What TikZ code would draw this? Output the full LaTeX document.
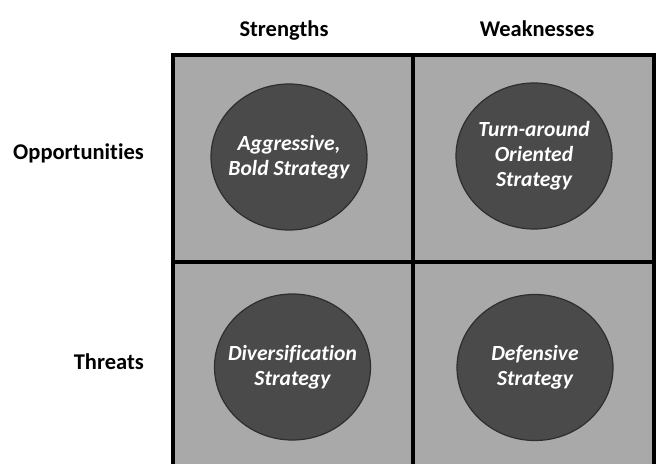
\documentclass[tikz,border=0pt]{standalone}
\usepackage{fontspec}
\setmainfont[Ligatures={NoCommon,NoContextual}]{Carlito}
\usetikzlibrary{shapes.geometric}
\definecolor{cellgray}{HTML}{A9A9A9}
\definecolor{bubblefill}{HTML}{4A4A4A}
\definecolor{bubbleedge}{HTML}{2E2E2E}
\tikzset{
  cell/.style={draw=black, line width=4pt, fill=cellgray, minimum width=#1, minimum height=207.5pt, inner sep=0pt, anchor=north west},
  bubble/.style={ellipse, draw=bubbleedge, line width=1.2pt, fill=bubblefill, minimum width=156pt, minimum height=146pt, inner sep=0pt},
  bubbletext/.style={text=white, align=center, font=\fontsize{21.6pt}{25pt}\selectfont\bfseries\itshape},
  head/.style={font=\fontsize{22.5pt}{26pt}\selectfont\bfseries, anchor=base, inner sep=0pt},
  rowhead/.style={font=\fontsize{22.5pt}{26pt}\selectfont\bfseries, anchor=base east, inner sep=0pt}
}
\begin{document}
\begin{tikzpicture}[x=1pt, y=-1pt]
  \useasboundingbox (0,0) rectangle (658,463);
  \begin{scope}
    \clip (0,0) rectangle (658,463);
    % the four quadrants of the matrix
    \node[cell=240pt] (so) at (171,52.5) {};
    \node[cell=241pt] (wo) at (411,52.5) {};
    \node[cell=240pt] (st) at (171,260) {};
    \node[cell=241pt] (wt) at (411,260) {};
  \end{scope}
  % strategy bubbles
  \node[bubble] (b1) at (289,157) {};
  \node[bubble] (b2) at (534,156) {};
  \node[bubble] (b3) at (292.5,367) {};
  \node[bubble] (b4) at (535,367.5) {};
  \node[bubbletext] at (b1) {Aggressive,\\Bold Strategy};
  \node[bubbletext] at (b2) {Turn-around\\Oriented\\Strategy};
  \node[bubbletext] at (b3) {Diversification\\Strategy};
  \node[bubbletext] at (b4) {Defensive\\Strategy};
  % column and row headings
  \node[head] (hs) at (284,36) {Strengths};
  \node[head] (hw) at (537,36) {Weaknesses};
  \node[rowhead] (ho) at (144,159) {Opportunities};
  \node[rowhead] (ht) at (144,369) {Threats};
\end{tikzpicture}
\end{document}
